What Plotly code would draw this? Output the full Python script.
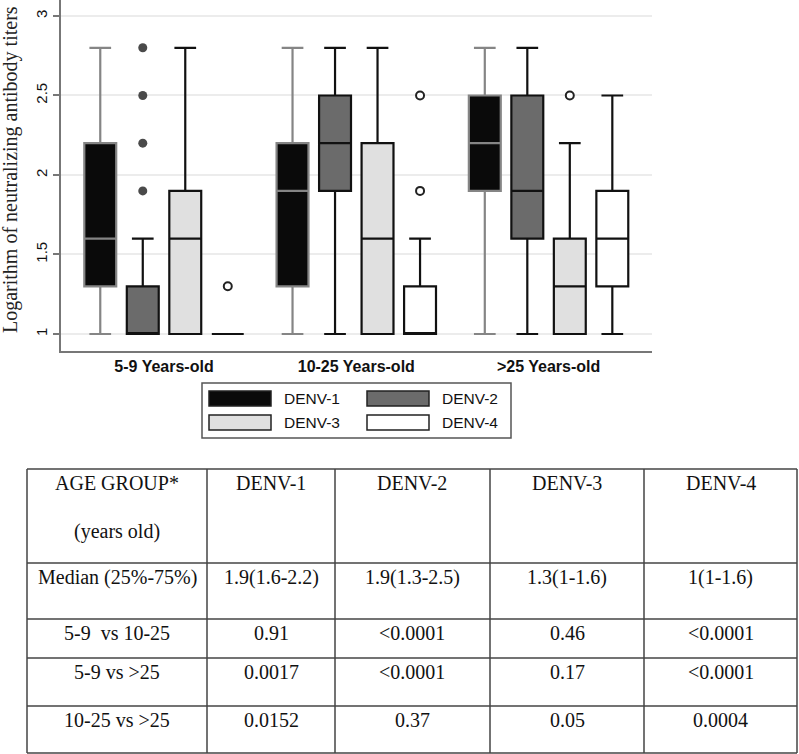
import plotly.graph_objects as go

# ---------------- data ----------------
groups = ["5-9 Years-old", "10-25 Years-old", ">25 Years-old"]
series = ["DENV-1", "DENV-2", "DENV-3", "DENV-4"]

# per series: values for the three age groups
lower_fence = [[1.0, 1.0, 1.0], [1.0, 1.0, 1.0], [1.0, 1.0, 1.0], [1.0, 1.0, 1.0]]
q1_vals     = [[1.3, 1.3, 1.9], [1.0, 1.9, 1.6], [1.0, 1.0, 1.0], [1.0, 1.0, 1.3]]
median_vals = [[1.6, 1.9, 2.2], [1.0, 2.2, 1.9], [1.6, 1.6, 1.3], [1.0, 1.0, 1.6]]
q3_vals     = [[2.2, 2.2, 2.5], [1.3, 2.5, 2.5], [1.9, 2.2, 1.6], [1.0, 1.3, 1.9]]
upper_fence = [[2.8, 2.8, 2.8], [1.6, 2.8, 2.8], [2.8, 2.8, 2.2], [1.0, 1.6, 2.5]]

outlier_series = [1, 1, 1, 1, 3, 3, 3, 2]
outlier_group  = [0, 0, 0, 0, 0, 1, 1, 2]
outlier_values = [1.9, 2.2, 2.5, 2.8, 1.3, 1.9, 2.5, 2.5]

y_ticks = [1, 1.5, 2, 2.5, 3]
y_tick_labels = ["1", "1.5", "2", "2.5", "3"]

table_header = ["AGE GROUP*", "DENV-1", "DENV-2", "DENV-3", "DENV-4"]
table_header_sub = "(years old)"
table_row_labels = ["Median (25%-75%)", "5-9  vs 10-25", "5-9 vs >25", "10-25 vs >25"]
table_denv1 = ["1.9(1.6-2.2)", "0.91", "0.0017", "0.0152"]
table_denv2 = ["1.9(1.3-2.5)", "<0.0001", "<0.0001", "0.37"]
table_denv3 = ["1.3(1-1.6)", "0.46", "0.17", "0.05"]
table_denv4 = ["1(1-1.6)", "<0.0001", "<0.0001", "0.0004"]

# ---------------- styling ----------------
W, H = 799, 754
fills = ["#0a0a0a", "#6b6b6b", "#e0e0e0", "#ffffff"]
lines = ["#858585", "#111111", "#111111", "#111111"]
offsets = [-0.3316, -0.1105, 0.1105, 0.3316]
box_w = 0.166

def px(x):
    return x / W

def py(y):
    return 1 - y / H

fig = go.Figure()

for s in range(4):
    fig.add_trace(go.Box(
        x=[g + offsets[s] for g in range(3)],
        q1=q1_vals[s], median=median_vals[s], q3=q3_vals[s],
        lowerfence=lower_fence[s], upperfence=upper_fence[s],
        width=box_w, whiskerwidth=0.68,
        fillcolor=fills[s], line=dict(color=lines[s], width=2.2),
        name=series[s], showlegend=False, boxpoints=False, hoverinfo="skip",
    ))

ox = [outlier_group[i] + offsets[outlier_series[i]] for i in range(len(outlier_values))]
filled = [outlier_series[i] == 1 for i in range(len(outlier_values))]
fig.add_trace(go.Scatter(
    x=[ox[i] for i in range(len(ox)) if filled[i]],
    y=[outlier_values[i] for i in range(len(ox)) if filled[i]],
    mode="markers", marker=dict(size=9, color="#4a4a4a", line=dict(width=0)),
    showlegend=False, hoverinfo="skip"))
fig.add_trace(go.Scatter(
    x=[ox[i] for i in range(len(ox)) if not filled[i]],
    y=[outlier_values[i] for i in range(len(ox)) if not filled[i]],
    mode="markers", marker=dict(size=8, color="#ffffff", line=dict(width=2, color="#222222")),
    showlegend=False, hoverinfo="skip"))

shapes = []
annotations = []

# legend
shapes.append(dict(type="rect", xref="paper", yref="paper",
                   x0=px(202), x1=px(511), y0=py(438), y1=py(383),
                   line=dict(color="#555555", width=1.5), fillcolor="white"))
leg_pos = [(209, 391), (367, 391), (209, 415), (367, 415)]
for s in range(4):
    lx, ly = leg_pos[s]
    shapes.append(dict(type="rect", xref="paper", yref="paper",
                       x0=px(lx), x1=px(lx + 62), y0=py(ly + 15), y1=py(ly),
                       line=dict(color="#222222", width=1.5), fillcolor=fills[s]))
    annotations.append(dict(xref="paper", yref="paper", x=px(lx + 73), y=py(ly + 7.5),
                            text=series[s], showarrow=False, xanchor="left", yanchor="middle",
                            font=dict(family="Liberation Sans", size=15.5, color="#111111")))

# y-axis title
annotations.append(dict(xref="paper", yref="paper", x=px(11), y=py(170),
                        text="Logarithm of neutralizing antibody titers", showarrow=False,
                        textangle=-90, xanchor="center", yanchor="middle",
                        font=dict(family="Liberation Serif", size=20, color="#222222")))

# table
col_x = [27, 207, 335, 490, 644, 797]
row_y = [469, 563, 619, 658, 706, 753]
tcolor = "#444444"
for x in col_x:
    shapes.append(dict(type="line", xref="paper", yref="paper",
                       x0=px(x), x1=px(x), y0=py(row_y[0]), y1=py(row_y[-1]),
                       line=dict(color=tcolor, width=1.5)))
for y in row_y:
    shapes.append(dict(type="line", xref="paper", yref="paper",
                       x0=px(col_x[0]), x1=px(col_x[-1]), y0=py(y), y1=py(y),
                       line=dict(color=tcolor, width=1.5)))

tfont = dict(family="Liberation Serif", size=20, color="#111111")
col_c = [(col_x[i] + col_x[i + 1]) / 2 for i in range(5)]

def cell(ci, yc, text):
    annotations.append(dict(xref="paper", yref="paper", x=px(col_c[ci]), y=py(yc),
                            text=text, showarrow=False, xanchor="center", yanchor="middle",
                            font=tfont))

for ci in range(5):
    cell(ci, row_y[0] + 14, table_header[ci])
cell(0, 531, table_header_sub)
cols = [table_row_labels, table_denv1, table_denv2, table_denv3, table_denv4]
for r in range(4):
    for ci in range(5):
        cell(ci, row_y[r + 1] + 14, cols[ci][r])

fig.update_layout(
    width=W, height=H,
    margin=dict(l=0, r=0, t=0, b=0),
    paper_bgcolor="white", plot_bgcolor="white",
    showlegend=False,
    shapes=shapes, annotations=annotations,
    xaxis=dict(domain=[px(61), px(652)], range=[-0.5358, 2.538],
               tickvals=[0, 1, 2], ticktext=groups, ticks="",
               tickfont=dict(family="Liberation Sans", size=16, color="#111111", weight="bold"),
               showgrid=False, zeroline=False, showline=True,
               linecolor="#777777", linewidth=2, automargin=False),
    yaxis=dict(domain=[py(351), 1], range=[0.893, 3.1006],
               tickvals=y_ticks, ticktext=y_tick_labels, tickangle=-90,
               ticks="outside", ticklen=6, tickcolor="#777777", tickwidth=1.5,
               tickfont=dict(family="Liberation Sans", size=15, color="#111111"),
               showgrid=True, gridcolor="#ececec", gridwidth=1.5,
               zeroline=False, showline=True, linecolor="#777777", linewidth=2,
               automargin=False),
)

fig.write_html("out.html", config={"displayModeBar": False},
               post_script="document.body.style.margin='0px';")
